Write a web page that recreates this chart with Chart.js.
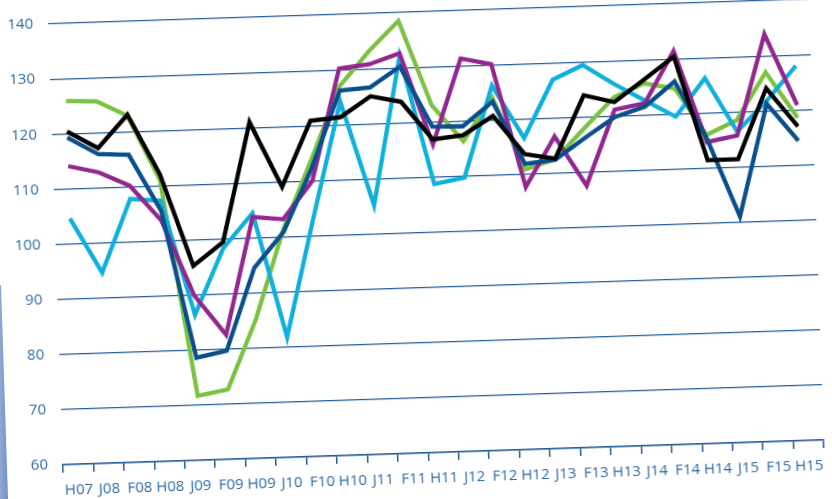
<!DOCTYPE html>
<html>
<head>
<meta charset="utf-8">
<script src="https://cdn.jsdelivr.net/npm/chart.js@4.4.1/dist/chart.umd.min.js"></script>
<style>
  html, body { margin: 0; padding: 0; background: #ffffff; overflow: hidden; width: 832px; height: 499px; }
  #wrap { position: absolute; left: 0; top: 0; width: 832px; height: 499px; }
  #c { position: absolute; left: 0; top: 0; transform-origin: 63px 465px; transform: matrix(1, -0.0326, 0.0335, 1, 0, 0); }
  #band { position: absolute; left: 0; top: 0; width: 12px; height: 499px;
    background: linear-gradient(90deg, #8fa9d3 0%, #7394c8 60%, #2a5893 100%);
    clip-path: polygon(0 285px, 1px 285px, 8px 499px, 0 499px); }
</style>
</head>
<body>
<div id="wrap">
  <canvas id="c" width="832" height="499"></canvas>
  <div id="band"></div>
</div>
<script>
const categories = ['H07','J08','F08','H08','J09','F09','H09','J10','F10','H10','J11','F11','H11','J12','F12','H12','J13','F13','H13','J14','F14','H14','J15','F15','H15'];

const seriesBlack  = [120.4, 117.2, 123.1, 112.1, 95.3, 99.4, 121.0, 109.1, 120.9, 121.4, 125.0, 123.8, 116.8, 117.4, 120.7, 113.6, 112.6, 123.9, 122.5, 126.4, 130.4, 111.4, 111.4, 124.1, 117.0];
const seriesBlue   = [119.3, 116.1, 115.8, 105.5, 78.6, 79.7, 94.6, 100.9, 112.4, 126.2, 126.6, 130.2, 119.1, 119.0, 123.3, 111.8, 112.4, 116.2, 119.8, 121.5, 125.9, 115.3, 101.0, 121.3, 114.4];
const seriesPurple = [114.1, 112.8, 110.2, 103.7, 89.9, 82.6, 103.8, 103.2, 110.0, 130.2, 130.8, 132.6, 115.9, 131.3, 130.1, 107.6, 116.6, 107.5, 121.1, 122.1, 131.4, 114.7, 115.7, 133.9, 120.9];
const seriesCyan   = [104.6, 94.6, 107.8, 107.3, 86.4, 98.3, 104.5, 81.8, 103.4, 124.2, 105.2, 132.1, 108.7, 109.7, 126.2, 116.5, 126.9, 129.4, 125.8, 122.6, 119.5, 126.3, 116.4, 121.8, 128.0];
const seriesGreen  = [125.9, 125.7, 122.9, 111.0, 71.7, 72.7, 85.3, 101.5, 114.0, 127.0, 133.2, 138.5, 123.0, 116.3, 124.0, 110.8, 112.5, 118.0, 123.4, 125.7, 124.6, 116.0, 118.5, 127.0, 118.6];

const yTicks = [60, 70, 80, 90, 100, 110, 120, 130, 140];

const axisBlue = '#245d97';
const labelBlue = '#2f6aa6';

function ds(label, data, color) {
  return { label, data, borderColor: color, backgroundColor: color, borderWidth: 4.3,
           pointRadius: 0, tension: 0, fill: false, borderJoinStyle: 'miter', borderCapStyle: 'butt' };
}

new Chart(document.getElementById('c'), {
  type: 'line',
  data: {
    labels: categories,
    datasets: [
      ds('Serie 5', seriesBlack, '#000000'),
      ds('Serie 4', seriesBlue, '#0a4f8c'),
      ds('Serie 3', seriesPurple, '#93278f'),
      ds('Serie 2', seriesCyan, '#10b0dc'),
      ds('Serie 1', seriesGreen, '#7cc242')
    ]
  },
  options: {
    responsive: false,
    animation: false,
    devicePixelRatio: 1,
    layout: { padding: { top: 17, right: 2, left: 0, bottom: 0 } },
    plugins: { legend: { display: false }, tooltip: { enabled: false } },
    scales: {
      x: {
        offset: true,
        grid: { offset: true, drawOnChartArea: false, drawTicks: true, tickLength: 8, tickColor: axisBlue, lineWidth: 1.5 },
        border: { display: true, color: axisBlue, width: 1.5 },
        ticks: { color: labelBlue, font: { family: "'Open Sans', 'Liberation Sans', sans-serif", size: 15 },
                 padding: 9, maxRotation: 0, minRotation: 0, autoSkip: false },
        afterFit: (s) => { s.height = 34; }
      },
      y: {
        min: yTicks[0], max: yTicks[yTicks.length - 1],
        afterBuildTicks: (s) => { s.ticks = yTicks.map(v => ({ value: v })); },
        grid: { color: axisBlue, lineWidth: 1.2, drawTicks: false },
        border: { display: false },
        ticks: { color: labelBlue, font: { family: "'Open Sans', 'Liberation Sans', sans-serif", size: 15 }, padding: 15 },
        afterFit: (s) => { s.width = 63; }
      }
    }
  }
});
</script>
</body>
</html>
